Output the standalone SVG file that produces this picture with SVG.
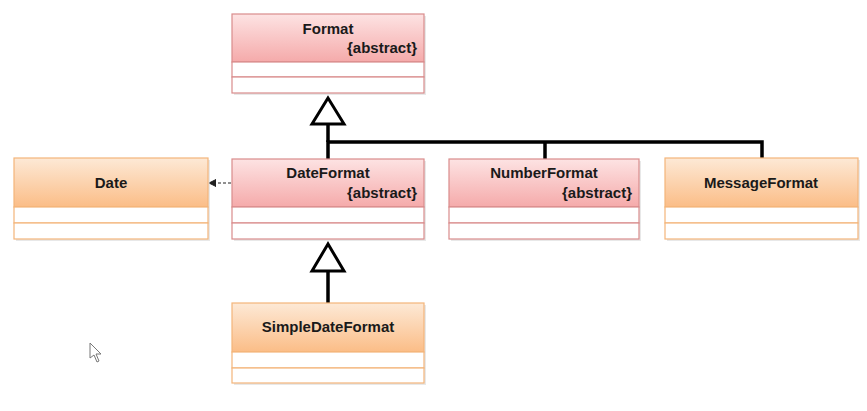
<svg xmlns="http://www.w3.org/2000/svg" width="867" height="411" viewBox="0 0 867 411">
<defs>
<linearGradient id="gPink" x1="0" y1="0" x2="0" y2="1">
<stop offset="0" stop-color="#fde3e3"/>
<stop offset="1" stop-color="#f5aaaa"/>
</linearGradient>
<linearGradient id="gOrange" x1="0" y1="0" x2="0" y2="1">
<stop offset="0" stop-color="#fde9d6"/>
<stop offset="1" stop-color="#fbbd87"/>
</linearGradient>
<marker id="open" markerWidth="8" markerHeight="8" refX="7" refY="4" orient="auto" markerUnits="userSpaceOnUse">
<path d="M0,0.5 L7,4 L0,7.5 Z" fill="#222" stroke="#222" stroke-width="1"/>
</marker>
</defs>
<style>
.sh{fill:#d8d8d8;opacity:0.6}
.pk{stroke:#d98c8c;stroke-width:1.2}
.or{stroke:#f4b57a;stroke-width:1.2}
.body{fill:#ffffff}
.name{font-family:"Liberation Sans",Arial,sans-serif;font-weight:bold;font-size:15px;fill:#1a1a1a;text-anchor:middle}
.abs{font-family:"Liberation Sans",Arial,sans-serif;font-weight:bold;font-size:15px;fill:#1a1a1a;text-anchor:end}
.gen{fill:none;stroke:#000;stroke-width:3.5}
.tri{fill:#fff;stroke:#000;stroke-width:3}
</style>
<rect width="867" height="411" fill="#ffffff"/>

<g id="connectors">
<polyline class="gen" points="328,159 328,142 762,142 762,158"/>
<line class="gen" x1="545" y1="142" x2="545" y2="159"/>
<line class="gen" x1="328" y1="124" x2="328" y2="142"/>
<polygon class="tri" points="328,98 312,124 344,124"/>
<line class="gen" x1="328" y1="303" x2="328" y2="271"/>
<polygon class="tri" points="328,244 312,271 344,271"/>
<line x1="231" y1="183" x2="209" y2="183" stroke="#222" stroke-width="1.2" stroke-dasharray="3,2" marker-end="url(#open)"/>
</g>

<g id="Format">
<rect class="sh" x="234" y="16" width="192" height="79"/>
<rect x="232" y="14" width="192" height="48" fill="url(#gPink)" class="pk"/>
<rect x="232" y="62" width="192" height="15" class="body pk"/>
<rect x="232" y="77" width="192" height="16" class="body pk"/>
<text class="name" x="328" y="34">Format</text>
<text class="abs" x="417" y="53">{abstract}</text>
</g>

<g id="DateFormat">
<rect class="sh" x="234" y="161" width="192" height="80"/>
<rect x="232" y="159" width="192" height="48" fill="url(#gPink)" class="pk"/>
<rect x="232" y="207" width="192" height="16" class="body pk"/>
<rect x="232" y="223" width="192" height="16" class="body pk"/>
<text class="name" x="328" y="178">DateFormat</text>
<text class="abs" x="417" y="198">{abstract}</text>
</g>

<g id="NumberFormat">
<rect class="sh" x="451" y="161" width="190" height="80"/>
<rect x="449" y="159" width="190" height="48" fill="url(#gPink)" class="pk"/>
<rect x="449" y="207" width="190" height="16" class="body pk"/>
<rect x="449" y="223" width="190" height="16" class="body pk"/>
<text class="name" x="544" y="178">NumberFormat</text>
<text class="abs" x="632" y="198">{abstract}</text>
</g>

<g id="MessageFormat">
<rect class="sh" x="667" y="160" width="193" height="81"/>
<rect x="665" y="158" width="193" height="49" fill="url(#gOrange)" class="or"/>
<rect x="665" y="207" width="193" height="16" class="body or"/>
<rect x="665" y="223" width="193" height="16" class="body or"/>
<text class="name" x="761" y="188">MessageFormat</text>
</g>

<g id="Date">
<rect class="sh" x="16" y="160" width="194" height="81"/>
<rect x="14" y="158" width="194" height="49" fill="url(#gOrange)" class="or"/>
<rect x="14" y="207" width="194" height="16" class="body or"/>
<rect x="14" y="223" width="194" height="16" class="body or"/>
<text class="name" x="111" y="188">Date</text>
</g>

<g id="SimpleDateFormat">
<rect class="sh" x="234" y="305" width="192" height="80"/>
<rect x="232" y="303" width="192" height="49" fill="url(#gOrange)" class="or"/>
<rect x="232" y="352" width="192" height="16" class="body or"/>
<rect x="232" y="368" width="192" height="15" class="body or"/>
<text class="name" x="328" y="332">SimpleDateFormat</text>
</g>

<polygon points="90,343 90,358 94,355 97,362 99,361 96,354 101,354" fill="#fff" stroke="#777" stroke-width="1"/>
</svg>
